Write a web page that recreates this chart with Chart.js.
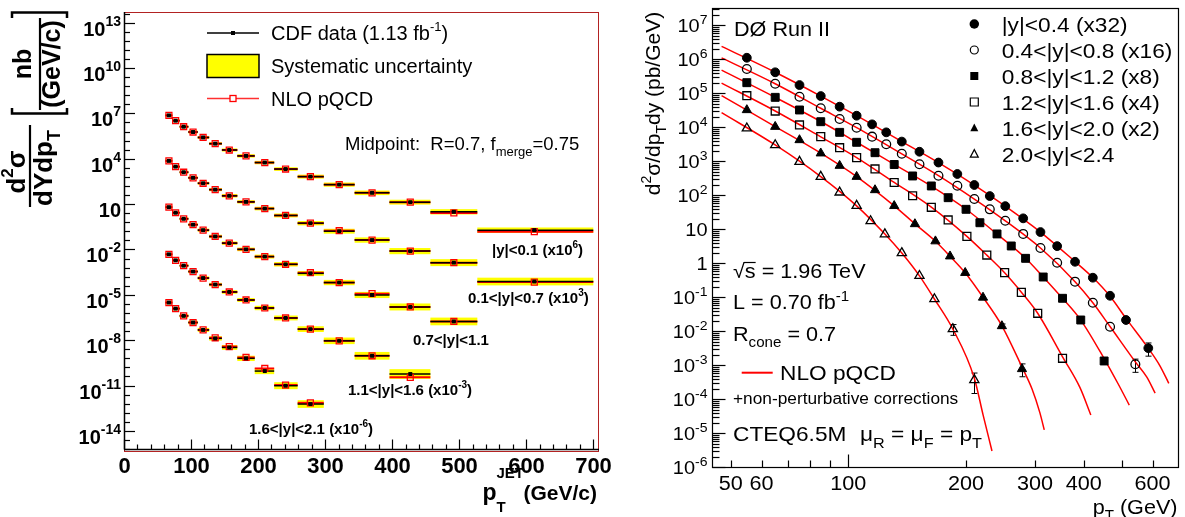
<!DOCTYPE html>
<html>
<head>
<meta charset="utf-8">
<script src="https://cdn.jsdelivr.net/npm/chart.js@4.4.1/dist/chart.umd.min.js"></script>
<style>
  html, body { margin: 0; padding: 0; background: #fff; }
  #wrap { position: relative; width: 1185px; height: 517px; overflow: hidden; background: #fff; }
  #cdf { position: absolute; left: 0; top: 0; }
  #d0 { position: absolute; left: 600px; top: 0; }
</style>
</head>
<body>
<div id="wrap">
  <canvas id="cdf" width="640" height="517"></canvas>
  <canvas id="d0" width="585" height="517"></canvas>
</div>
<script>
// ---------- Left panel: CDF inclusive jets (nb/(GeV/c)), unscaled ----------
const cdfBinEdges = [62, 72, 83, 96, 110, 127, 146, 169, 195, 224, 259, 298, 344, 396, 457, 527, 700];
const cdfPt = [67, 77, 89, 103, 118, 136, 157, 182, 210, 241, 278, 321, 370, 427, 492, 612];
const cdfScale = [1e6, 1e3, 1, 1e-3, 1e-6];

const cdfData1 = [7.41, 3.31, 1.32, 0.589, 0.257, 0.100, 0.038, 0.0155, 5.62e-3, 2.09e-3, 6.6e-4, 1.95e-4, 5.6e-5, 1.35e-5, 3.1e-6, 1.9e-7];
const cdfData2 = [7.24, 3.02, 1.29, 0.55, 0.24, 0.091, 0.0355, 0.0141, 5.1e-3, 1.78e-3, 5.5e-4, 1.62e-4, 4.2e-5, 7.8e-6, 1.35e-6, 7.6e-8];
const cdfData3 = [6.31, 2.69, 1.07, 0.437, 0.19, 0.0724, 0.0263, 0.0102, 3.39e-3, 1.05e-3, 2.63e-4, 6.5e-5, 9.8e-6, 1.58e-6, 1.74e-7];
const cdfData4 = [4.79, 1.91, 0.851, 0.347, 0.129, 0.0479, 0.0155, 4.57e-3, 1.35e-3, 2.95e-4, 5.4e-5, 9.1e-6, 9.3e-7, 5.8e-8];
const cdfData5 = [3.09, 1.23, 0.407, 0.148, 0.0479, 0.0132, 3.31e-3, 6.3e-4, 9.1e-5, 9.8e-6, 6.0e-7];

const cdfNlo1 = [7.41, 3.31, 1.32, 0.589, 0.257, 0.100, 0.038, 0.0155, 5.62e-3, 2.09e-3, 6.6e-4, 1.95e-4, 5.6e-5, 1.35e-5, 2.6e-6, 1.5e-7];
const cdfNlo2 = [7.24, 3.02, 1.29, 0.55, 0.24, 0.091, 0.0355, 0.0141, 5.1e-3, 1.78e-3, 5.5e-4, 1.75e-4, 4.2e-5, 7.8e-6, 1.35e-6, 7.0e-8];
const cdfNlo3 = [6.31, 2.69, 1.07, 0.437, 0.19, 0.0724, 0.0263, 0.0102, 3.39e-3, 1.05e-3, 2.9e-4, 6.5e-5, 1.2e-5, 1.58e-6, 1.74e-7];
const cdfNlo4 = [4.79, 1.91, 0.851, 0.347, 0.129, 0.0479, 0.0155, 4.57e-3, 1.35e-3, 2.95e-4, 5.4e-5, 9.1e-6, 9.3e-7, 3.5e-8];
const cdfNlo5 = [3.09, 1.23, 0.407, 0.148, 0.0479, 0.0145, 3.8e-3, 7.2e-4, 1.35e-4, 1.08e-5, 7.2e-7];

// relative systematic uncertainty per bin
const cdfSys1 = [0.25, 0.25, 0.25, 0.25, 0.25, 0.25, 0.27, 0.3, 0.3, 0.32, 0.35, 0.38, 0.42, 0.45, 0.5, 0.5];
const cdfSys2 = [0.25, 0.25, 0.25, 0.25, 0.25, 0.27, 0.3, 0.3, 0.32, 0.35, 0.4, 0.45, 0.5, 0.6, 0.7, 0.8];
const cdfSys3 = [0.25, 0.25, 0.25, 0.25, 0.27, 0.3, 0.3, 0.32, 0.35, 0.4, 0.45, 0.5, 0.6, 0.7, 0.8];
const cdfSys4 = [0.25, 0.25, 0.25, 0.27, 0.3, 0.3, 0.32, 0.35, 0.4, 0.45, 0.55, 0.65, 0.8, 1.1];
const cdfSys5 = [0.3, 0.3, 0.3, 0.32, 0.35, 0.4, 0.45, 0.5, 0.6, 0.7, 0.8];

// ---------- Right panel: D0 inclusive jets (pb/GeV), as drawn incl. (xN) ----------
const d0Pt1 = [55, 65, 75, 85, 95, 105, 115, 125, 137, 152, 170, 190, 210, 230, 252, 280, 310, 342, 380, 422, 467, 513, 585];
const d0Y1 = [1.11e6, 4.15e5, 1.75e5, 8.3e4, 4.04e4, 2.19e4, 1.22e4, 7.1e3, 3.8e3, 1.91e3, 920, 423, 201, 95, 48, 21, 8.3, 3.2, 1.11, 0.377, 0.111, 0.0215, 3.2e-3];
const d0Pt2 = [55, 65, 75, 85, 95, 105, 115, 125, 137, 152, 170, 190, 210, 230, 252, 280, 310, 342, 380, 422, 467, 542];
const d0Y2 = [5.19e5, 1.91e5, 7.9e4, 3.62e4, 1.75e4, 9.7e3, 5.3e3, 3.16e3, 1.67e3, 817, 377, 191, 78, 38.7, 17.9, 7.3, 2.82, 1.04, 0.288, 0.0693, 0.0136, 1.07e-3];
const d0Pt3 = [55, 65, 75, 85, 95, 105, 117, 131, 146, 163, 180, 200, 217, 240, 261, 284, 315, 353, 393, 451];
const d0Y3 = [2.05e5, 7.6e4, 3.23e4, 1.46e4, 7.1e3, 3.62e3, 1.79e3, 805, 370, 188, 85, 38.7, 15.6, 7.3, 3.23, 1.4, 0.395, 0.0935, 0.0215, 1.34e-3];
const d0Pt4 = [55, 65, 75, 85, 95, 105, 117, 131, 146, 163, 180, 201, 226, 251, 277, 305, 353];
const d0Y4 = [8.5e4, 3.01e4, 1.17e4, 5.3e3, 2.51e3, 1.28e3, 594, 238, 97, 44.4, 18.8, 6.2, 1.75, 0.53, 0.14, 0.0338, 1.61e-3];
const d0Pt5 = [55, 65, 75, 85, 95, 105, 117, 131, 148, 167, 182, 199, 221, 247, 278];
const d0Y5 = [3.23e4, 1.04e4, 4.23e3, 1.72e3, 743, 352, 143, 48.8, 14.3, 4.47, 1.61, 0.526, 0.0986, 0.0143, 7.8e-4];
const d0Pt6 = [55, 65, 75, 85, 95, 105, 114, 124, 137, 152, 166, 185, 210];
const d0Y6 = [9.35e3, 3.01e3, 973, 352, 122, 49.4, 17.5, 7.2, 2.01, 0.43, 0.0891, 0.0117, 3.7e-4];

// relative stat. errors (only the last points are visible)
const d0Err1 = [0, 0, 0, 0, 0, 0, 0, 0, 0, 0, 0, 0, 0, 0, 0, 0, 0, 0, 0, 0, 0, 0, 0.42];
const d0Err2 = [0, 0, 0, 0, 0, 0, 0, 0, 0, 0, 0, 0, 0, 0, 0, 0, 0, 0, 0, 0, 0, 0.42];
const d0Err5 = [0, 0, 0, 0, 0, 0, 0, 0, 0, 0, 0, 0, 0, 0.15, 0.41];
const d0Err6 = [0, 0, 0, 0, 0, 0, 0, 0, 0, 0, 0, 0.35, 0.6];

// NLO pQCD curves
const nloPt1 = [47.4, 65, 85, 105, 137, 170, 210, 252, 310, 380, 422, 467, 513, 585, 627, 660];
const nloY1 = [2.4e6, 4.17e5, 8.3e4, 2.19e4, 3.8e3, 912, 200, 47.9, 8.3, 1.12, 0.38, 0.107, 0.024, 3.16e-3, 9.5e-4, 2.95e-4];
const nloPt2 = [47.4, 65, 85, 105, 137, 170, 210, 252, 310, 380, 422, 467, 542, 580, 609];
const nloY2 = [1.1e6, 1.91e5, 3.63e4, 9.8e3, 1.66e3, 380, 77.6, 17.8, 2.82, 0.288, 0.0692, 0.0138, 1.26e-3, 4.47e-4, 1.51e-4];
const nloPt3 = [47.4, 65, 85, 105, 131, 163, 200, 240, 284, 315, 353, 393, 451, 490, 523];
const nloY3 = [4.79e5, 7.6e4, 1.48e4, 3.63e3, 813, 186, 38.9, 7.24, 1.41, 0.398, 0.0933, 0.0214, 1.58e-3, 2.82e-4, 6.76e-5];
const nloPt4 = [47.4, 65, 85, 105, 131, 163, 201, 226, 251, 277, 305, 353, 391, 417];
const nloY4 = [2.0e5, 3.02e4, 5.25e3, 1.29e3, 240, 44.7, 6.17, 1.74, 0.525, 0.141, 0.0339, 1.78e-3, 2.24e-4, 3.47e-5];
const nloPt5 = [47.4, 65, 85, 105, 131, 148, 167, 182, 199, 221, 247, 278, 295, 309, 317];
const nloY5 = [8.5e4, 1.05e4, 1.74e3, 355, 49, 14.5, 4.47, 1.62, 0.525, 0.1, 0.0145, 8.9e-4, 2.0e-4, 3.98e-5, 1.26e-5];
const nloPt6 = [47.4, 65, 85, 105, 124, 137, 152, 166, 185, 210, 221, 233];
const nloY6 = [2.69e4, 3.02e3, 355, 49, 7.24, 2.0, 0.427, 0.0891, 0.0117, 4.17e-4, 3.55e-5, 3.02e-6];

const d0Legend = ['|y|<0.4 (x32)', '0.4<|y|<0.8 (x16)', '0.8<|y|<1.2 (x8)', '1.2<|y|<1.6 (x4)', '1.6<|y|<2.0 (x2)', '2.0<|y|<2.4'];

// ---------- helpers ----------
const FONT = '"Liberation Sans", Arial, Helvetica, sans-serif';

// draw text made of parts: 'plain' or [text, 'sup'|'sub']; y is the baseline
function rich(ctx, parts, x, y, o) {
  const size = o.size, bold = o.bold ? 'bold ' : '', sx = o.sx || 1;
  const small = o.small || Math.round(size * 0.7);
  const fontOf = m => bold + (m ? small : size) + 'px ' + FONT;
  const items = parts.map(p => typeof p === 'string' ? [p, ''] : p);
  let total = 0;
  const w = items.map(([t, m]) => { ctx.font = fontOf(m); const v = ctx.measureText(t).width; total += v; return v; });
  let cx = o.align === 'right' ? -total : o.align === 'center' ? -total / 2 : 0;
  ctx.save();
  ctx.translate(x, y);
  if (o.rot) ctx.rotate(o.rot);
  ctx.scale(sx, 1);
  ctx.fillStyle = o.color || '#000';
  ctx.textAlign = 'left';
  ctx.textBaseline = 'alphabetic';
  items.forEach(([t, m], i) => {
    ctx.font = fontOf(m);
    const dy = m === 'sup' ? -(o.supUp || size * 0.45) : m === 'sub' ? (o.subDown || size * 0.3) : 0;
    ctx.fillText(t, cx, dy);
    cx += w[i];
  });
  ctx.restore();
  return total * sx;
}

function seg(ctx, x0, y0, x1, y1) {
  ctx.beginPath(); ctx.moveTo(x0, y0); ctx.lineTo(x1, y1); ctx.stroke();
}

function marker(ctx, kind, filled, x, y, s) {
  ctx.save();
  ctx.lineWidth = 1.2;
  ctx.strokeStyle = '#000';
  ctx.fillStyle = '#000';
  ctx.beginPath();
  if (kind === 'circle') ctx.arc(x, y, s / 2, 0, Math.PI * 2);
  else if (kind === 'rect') ctx.rect(x - s / 2, y - s / 2, s, s);
  else { ctx.moveTo(x, y - s * 0.55); ctx.lineTo(x + s / 2, y + s * 0.4); ctx.lineTo(x - s / 2, y + s * 0.4); ctx.closePath(); }
  if (filled) ctx.fill(); else ctx.stroke();
  ctx.restore();
}

// ---------- left chart ----------
const cdfSeries = [
  { data: cdfData1, nlo: cdfNlo1, sys: cdfSys1, scale: cdfScale[0] },
  { data: cdfData2, nlo: cdfNlo2, sys: cdfSys2, scale: cdfScale[1] },
  { data: cdfData3, nlo: cdfNlo3, sys: cdfSys3, scale: cdfScale[2] },
  { data: cdfData4, nlo: cdfNlo4, sys: cdfSys4, scale: cdfScale[3] },
  { data: cdfData5, nlo: cdfNlo5, sys: cdfSys5, scale: cdfScale[4] }
];
const cdfLabels = [
  { parts: ['|y|<0.1 (x10', ['6', 'sup'], ')'], x: 492, y: 255 },
  { parts: ['0.1<|y|<0.7 (x10', ['3', 'sup'], ')'], x: 468, y: 303 },
  { parts: ['0.7<|y|<1.1'], x: 413, y: 345 },
  { parts: ['1.1<|y|<1.6 (x10', ['-3', 'sup'], ')'], x: 348, y: 395 },
  { parts: ['1.6<|y|<2.1 (x10', ['-6', 'sup'], ')'], x: 249, y: 434 }
];

const cdfDatasets = [];
cdfSeries.forEach(s => {
  cdfDatasets.push({
    data: s.nlo.map((v, i) => ({ x: cdfPt[i], y: v * s.scale })),
    pointStyle: 'rect', pointRadius: 4.2, borderWidth: 1.3,
    borderColor: '#ff0000', backgroundColor: 'rgba(0,0,0,0)', order: 1
  });
  cdfDatasets.push({
    data: s.data.map((v, i) => ({ x: cdfPt[i], y: v * s.scale })),
    pointStyle: 'rect', pointRadius: 2.8, borderWidth: 0,
    borderColor: '#000', backgroundColor: '#000', order: 0
  });
});

const cdfDeco = {
  id: 'cdfDeco',
  beforeDatasetsDraw(chart) {
    const { ctx, chartArea: a, scales: { x, y } } = chart;
    ctx.save();
    ctx.beginPath(); ctx.rect(a.left, a.top, a.right - a.left, a.bottom - a.top); ctx.clip();
    // systematic bands
    cdfSeries.forEach(s => {
      s.data.forEach((v, i) => {
        const x0 = x.getPixelForValue(cdfBinEdges[i]), x1 = x.getPixelForValue(cdfBinEdges[i + 1]);
        const f = 1 + s.sys[i];
        const yt = y.getPixelForValue(v * s.scale * f), yb = y.getPixelForValue(v * s.scale / f);
        ctx.fillStyle = '#ffff00';
        ctx.fillRect(x0, yt, x1 - x0, yb - yt);
      });
    });
    // bin-width bars: NLO (red) then data (black)
    cdfSeries.forEach(s => {
      ctx.strokeStyle = '#ff0000'; ctx.lineWidth = 2;
      s.nlo.forEach((v, i) => {
        const py = y.getPixelForValue(v * s.scale);
        seg(ctx, x.getPixelForValue(cdfBinEdges[i]), py, x.getPixelForValue(cdfBinEdges[i + 1]), py);
      });
      ctx.strokeStyle = '#000'; ctx.lineWidth = 1.5;
      s.data.forEach((v, i) => {
        const py = y.getPixelForValue(v * s.scale);
        seg(ctx, x.getPixelForValue(cdfBinEdges[i]), py, x.getPixelForValue(cdfBinEdges[i + 1]), py);
      });
    });
    ctx.restore();
  },
  afterDraw(chart) {
    const { ctx, chartArea: a, scales: { x, y } } = chart;
    ctx.save();
    // frame
    ctx.strokeStyle = '#b22222'; ctx.lineWidth = 1;
    ctx.strokeRect(a.left + 0.5, a.top + 0.5, a.right - a.left - 1, a.bottom - a.top);
    ctx.strokeStyle = '#000'; ctx.lineWidth = 1.5;
    seg(ctx, a.left + 0.5, a.top, a.left + 0.5, a.bottom - 1.5);
    seg(ctx, a.left, a.bottom - 1.5, a.right, a.bottom - 1.5);
    // x ticks
    ctx.lineWidth = 1.2;
    for (let v = 0; v <= 700; v += 20) {
      const px = Math.round(x.getPixelForValue(v)) + 0.5;
      seg(ctx, px, a.bottom - 1.5, px, a.bottom - 1.5 - (v % 100 === 0 ? 10 : 5));
      if (v % 100 === 0) rich(ctx, [String(v)], px, 473, { size: 22, bold: true, align: 'center' });
    }
    // y ticks: labels every 3 decades, minor every 0.6 decade
    for (let k = -1; k <= 48; k++) {
      const e = 13 - 0.6 * k;
      const v = Math.pow(10, e);
      if (v < y.min || v > y.max) continue;
      const py = Math.round(y.getPixelForValue(v)) + 0.5;
      const major = k % 5 === 0;
      seg(ctx, a.left, py, a.left + (major ? 11 : 6), py);
      if (major) {
        const ex = Math.round(e);
        const parts = ex === 1 ? ['10'] : ['10', [String(ex), 'sup']];
        rich(ctx, parts, 121, py + 12.5, { size: 20, bold: true, small: 14, supUp: 10, align: 'right' });
      }
    }
    // x title: p_T^JET (GeV/c), sub/sup stacked
    ctx.fillStyle = '#000'; ctx.textBaseline = 'alphabetic'; ctx.textAlign = 'left';
    ctx.font = 'bold 21px ' + FONT;
    const wr = ctx.measureText('(GeV/c)').width;
    const xr = 597 - wr;
    ctx.fillText('(GeV/c)', xr, 500);
    ctx.font = 'bold 23px ' + FONT;
    ctx.fillText('p', xr - 41, 500);
    ctx.font = 'bold 15px ' + FONT;
    ctx.fillText('JET', xr - 27, 478);
    ctx.fillText('T', xr - 27, 512);
    // y title (rotated)
    const R = -Math.PI / 2;
    rich(ctx, ['d', ['2', 'sup'], 'σ'], 25, 172, { size: 26, bold: true, align: 'center', rot: R, small: 17, supUp: 12 });
    ctx.lineWidth = 2.2; seg(ctx, 30, 207, 30, 125);
    rich(ctx, ['dYdp', ['T', 'sub']], 52, 168, { size: 26, bold: true, align: 'center', rot: R, small: 18, subDown: 8 });
    rich(ctx, ['nb'], 31, 64, { size: 25, bold: true, align: 'center', rot: R });
    seg(ctx, 40, 110, 40, 18);
    rich(ctx, ['(GeV/c)'], 60, 64, { size: 25, bold: true, align: 'center', rot: R });
    ctx.lineWidth = 2.5;
    ctx.beginPath(); ctx.moveTo(12, 108); ctx.lineTo(12, 113.5); ctx.lineTo(67, 113.5); ctx.lineTo(67, 108); ctx.stroke();
    ctx.beginPath(); ctx.moveTo(12, 18); ctx.lineTo(12, 12.5); ctx.lineTo(67, 12.5); ctx.lineTo(67, 18); ctx.stroke();
    // legend
    ctx.strokeStyle = '#000'; ctx.lineWidth = 1.5; seg(ctx, 207, 33, 259, 33);
    ctx.fillStyle = '#000'; ctx.fillRect(231, 31, 4, 4);
    rich(ctx, ['CDF data (1.13 fb', ['-1', 'sup'], ')'], 271, 40, { size: 20, small: 13, supUp: 9 });
    ctx.fillStyle = '#ffff00'; ctx.fillRect(207, 54.5, 52, 23);
    ctx.strokeStyle = '#000'; ctx.lineWidth = 1.5; ctx.strokeRect(207, 54.5, 52, 23);
    rich(ctx, ['Systematic uncertainty'], 271, 73, { size: 20 });
    ctx.strokeStyle = '#ff3030'; ctx.lineWidth = 1.5; seg(ctx, 207, 98.5, 259, 98.5);
    ctx.strokeStyle = '#ff0000'; ctx.lineWidth = 1.3; ctx.fillStyle = '#fff';
    ctx.fillRect(230, 95.5, 6, 6); ctx.strokeRect(230, 95.5, 6, 6);
    rich(ctx, ['NLO pQCD'], 271, 105.5, { size: 20 });
    // annotation
    rich(ctx, ['Midpoint:  R=0.7, f', ['merge', 'sub'], '=0.75'], 345, 149.5, { size: 18.5, small: 13, subDown: 6 });
    cdfLabels.forEach(l => rich(ctx, l.parts, l.x, l.y, { size: 15, bold: true, small: 10, supUp: 7 }));
    ctx.restore();
  }
};

new Chart(document.getElementById('cdf'), {
  type: 'scatter',
  data: { datasets: cdfDatasets },
  options: {
    responsive: false, animation: false, events: [],
    layout: { padding: { left: 124, top: 12, right: 41, bottom: 66 } },
    plugins: { legend: { display: false }, tooltip: { enabled: false } },
    scales: {
      x: { type: 'linear', min: 0, max: 708.5, display: false },
      y: { type: 'logarithmic', min: 4.7e-16, max: 5.1e13, display: false }
    }
  },
  plugins: [cdfDeco]
});

// ---------- right chart ----------
const OX = 600;
const d0Series = [
  { pt: d0Pt1, y: d0Y1, err: d0Err1, th: nloPt1, thY: nloY1, style: 'circle', filled: true },
  { pt: d0Pt2, y: d0Y2, err: d0Err2, th: nloPt2, thY: nloY2, style: 'circle', filled: false },
  { pt: d0Pt3, y: d0Y3, err: null, th: nloPt3, thY: nloY3, style: 'rect', filled: true },
  { pt: d0Pt4, y: d0Y4, err: null, th: nloPt4, thY: nloY4, style: 'rect', filled: false },
  { pt: d0Pt5, y: d0Y5, err: d0Err5, th: nloPt5, thY: nloY5, style: 'triangle', filled: true },
  { pt: d0Pt6, y: d0Y6, err: d0Err6, th: nloPt6, thY: nloY6, style: 'triangle', filled: false }
];
const radius = { circle: 4.4, rect: 5.6, triangle: 5.3 };

const d0Datasets = [];
d0Series.forEach(s => {
  d0Datasets.push({
    data: s.th.map((v, i) => ({ x: v, y: s.thY[i] })),
    showLine: true, pointRadius: 0, borderColor: '#ff0000', borderWidth: 1.5,
    cubicInterpolationMode: 'monotone', order: 2
  });
  d0Datasets.push({
    data: s.pt.map((v, i) => ({ x: v, y: s.y[i] })),
    pointStyle: s.style, pointRadius: radius[s.style], borderWidth: s.filled ? 1 : 1.3,
    borderColor: '#000', backgroundColor: s.filled ? '#000' : 'rgba(0,0,0,0)', order: 0
  });
});

const d0Deco = {
  id: 'd0Deco',
  beforeDatasetsDraw(chart) {
    const { ctx, scales: { x, y } } = chart;
    ctx.save();
    ctx.strokeStyle = '#000'; ctx.lineWidth = 1;
    d0Series.forEach(s => {
      if (!s.err) return;
      s.err.forEach((e, i) => {
        if (!e) return;
        const px = Math.round(x.getPixelForValue(s.pt[i])) + 0.5;
        const y0 = y.getPixelForValue(s.y[i] * (1 + e)), y1 = y.getPixelForValue(s.y[i] * (1 - e));
        seg(ctx, px, y0, px, y1);
        seg(ctx, px - 3, y0, px + 3, y0);
        seg(ctx, px - 3, y1, px + 3, y1);
      });
    });
    ctx.restore();
  },
  afterDraw(chart) {
    const { ctx, chartArea: a, scales: { x, y } } = chart;
    ctx.save();
    ctx.strokeStyle = '#000'; ctx.lineWidth = 1.2;
    ctx.strokeRect(Math.round(a.left) + 0.5, Math.round(a.top) + 0.5, Math.round(a.right - a.left), Math.round(a.bottom - a.top));
    const bot = Math.round(a.bottom) + 0.5, lft = Math.round(a.left) + 0.5;
    // x ticks and labels
    [50, 60, 70, 80, 90, 100, 200, 300, 400, 500, 600].forEach(v => {
      const px = Math.round(x.getPixelForValue(v)) + 0.5;
      seg(ctx, px, bot, px, bot - (v === 100 ? 13 : 7));
    });
    [50, 60, 100, 200, 300, 400, 600].forEach(v => {
      rich(ctx, [String(v)], x.getPixelForValue(v), 490, { size: 20, sx: 1.08, align: 'center' });
    });
    // y ticks and labels
    for (let e = -6; e <= 7; e++) {
      for (let m = 1; m <= 9; m++) {
        const v = m * Math.pow(10, e);
        if (v > y.max * 1.0001) continue;
        const py = Math.round(y.getPixelForValue(v)) + 0.5;
        seg(ctx, lft, py, lft + (m === 1 ? 13 : 7), py);
      }
      const py = y.getPixelForValue(Math.pow(10, e));
      const parts = e === 0 ? ['1'] : e === 1 ? ['10'] : ['10', [String(e), 'sup']];
      rich(ctx, parts, 707.5 - OX, py + 6.7, { size: 18.5, sx: 1.08, small: 13, supUp: 8, align: 'right' });
    }
    // axis titles
    rich(ctx, ['p', ['T', 'sub'], ' (GeV)'], 1177.5 - OX, 514, { size: 20, sx: 1.08, small: 14, subDown: 6, align: 'right' });
    rich(ctx, ['d', ['2', 'sup'], 'σ/dp', ['T', 'sub'], 'dy (pb/GeV)'], 660 - OX, 103.5,
      { size: 21, align: 'center', rot: -Math.PI / 2, small: 14, supUp: 9, subDown: 6 });
    // experiment label
    rich(ctx, ['DØ Run II'], 734 - OX, 36.2, { size: 20, sx: 1.08 });
    // legend
    d0Series.forEach((s, i) => {
      const cy = 24 + 26 * i;
      const sz = s.style === 'circle' ? (s.filled ? 9.5 : 8) : 8;
      marker(ctx, s.style, s.filled, 974.3 - OX, cy, sz);
      rich(ctx, [d0Legend[i]], 1001.7 - OX, cy + 7.5, { size: 21, sx: 1.08 });
    });
    // info texts
    const w1 = rich(ctx, ['√'], 733 - OX, 278, { size: 20, sx: 1.08 });
    const w2 = rich(ctx, ['s'], 733 - OX + w1, 278, { size: 20, sx: 1.08 });
    ctx.lineWidth = 1.2; seg(ctx, 733 - OX + w1 - 1, 262.5, 733 - OX + w1 + w2, 262.5);
    rich(ctx, [' = 1.96 TeV'], 733 - OX + w1 + w2, 278, { size: 20, sx: 1.08 });
    rich(ctx, ['L = 0.70 fb', ['-1', 'sup']], 733 - OX, 309, { size: 20, sx: 1.08, small: 14, supUp: 8 });
    rich(ctx, ['R', ['cone', 'sub'], ' = 0.7'], 733 - OX, 340.5, { size: 20, sx: 1.08, small: 14, subDown: 6 });
    ctx.strokeStyle = '#ff0000'; ctx.lineWidth = 2; seg(ctx, 741.7 - OX, 372.7, 772.7 - OX, 372.7);
    rich(ctx, ['NLO pQCD'], 780 - OX, 380.2, { size: 21, sx: 1.08 });
    rich(ctx, ['+non-perturbative corrections'], 733 - OX, 404, { size: 16, sx: 1.08 });
    rich(ctx, ['CTEQ6.5M'], 733 - OX, 441, { size: 21, sx: 1.08 });
    rich(ctx, ['μ', ['R', 'sub'], ' = μ', ['F', 'sub'], ' = p', ['T', 'sub']], 860 - OX, 441, { size: 21, sx: 1.08, small: 15, subDown: 7 });
    ctx.restore();
  }
};

new Chart(document.getElementById('d0'), {
  type: 'scatter',
  data: { datasets: d0Datasets },
  options: {
    responsive: false, animation: false, events: [],
    layout: { padding: { left: 112, top: 8.3, right: 7, bottom: 49.7 } },
    plugins: { legend: { display: false }, tooltip: { enabled: false } },
    scales: {
      x: { type: 'logarithmic', min: 44.8, max: 696.8, display: false },
      y: { type: 'logarithmic', min: 1e-6, max: 3.16e7, display: false }
    }
  },
  plugins: [d0Deco]
});
</script>
</body>
</html>
